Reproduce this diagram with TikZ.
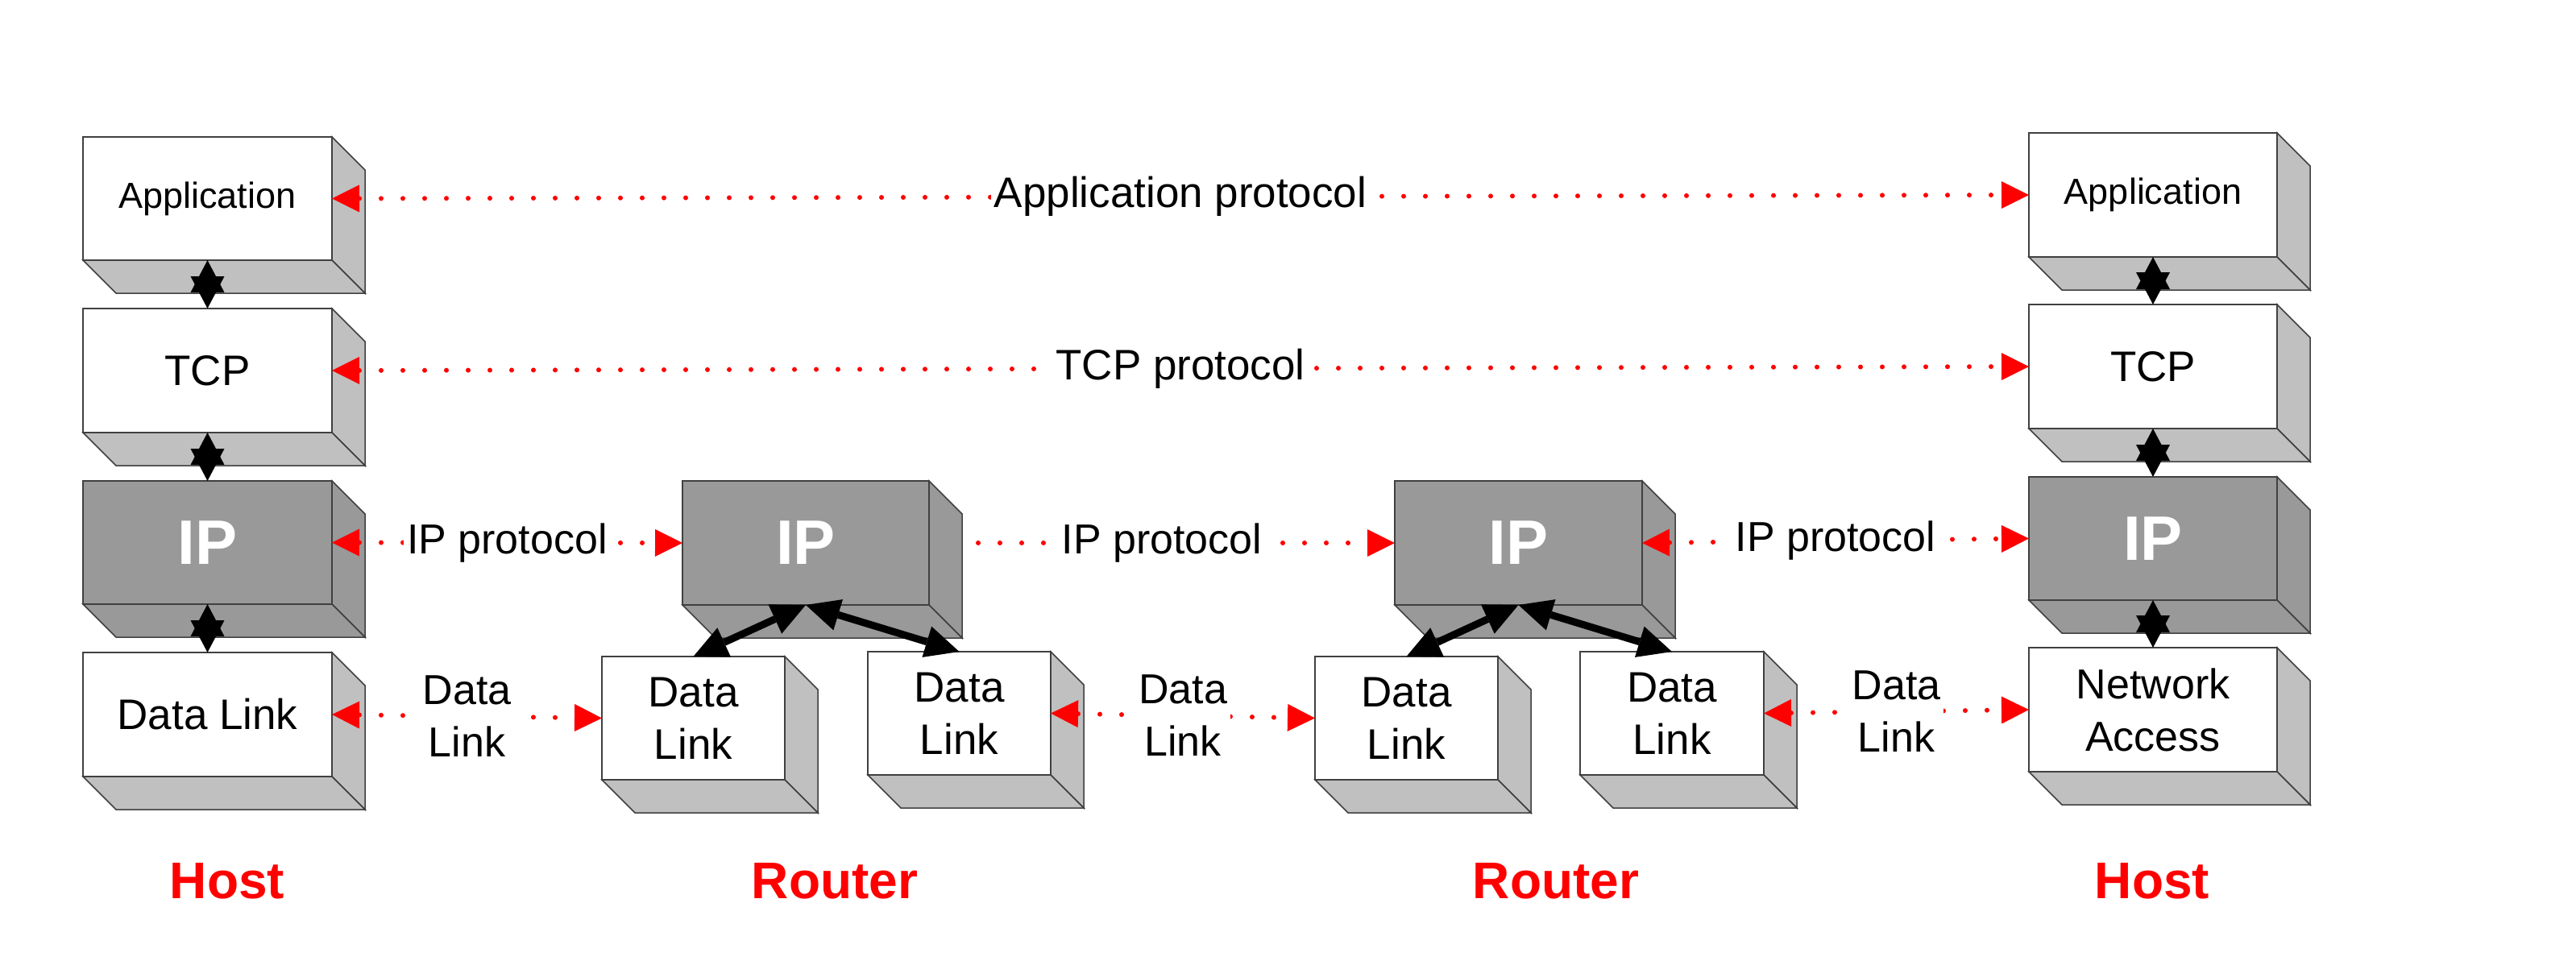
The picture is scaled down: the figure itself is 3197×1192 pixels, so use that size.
\documentclass[tikz,border=0pt]{standalone}
\usepackage{fontspec}
\setmainfont{Liberation Sans}
\usetikzlibrary{arrows.meta}
\definecolor{sidegray}{HTML}{C0C0C0}
\definecolor{ipgray}{HTML}{999999}
\definecolor{edgecol}{HTML}{404040}
\definecolor{pred}{HTML}{FF0000}
\pgfdeclarelayer{bg}
\pgfsetlayers{bg,main}
\tikzset{
  face/.style={draw=edgecol, line width=1.5pt, line join=miter},
  whitebox/.style={face, fill=white, rectangle, inner sep=0pt, outer sep=0pt, align=center, text=black},
  ipbox/.style={face, fill=ipgray, rectangle, inner sep=0pt, outer sep=0pt, align=center, text=white, font=\fontsize{78}{90}\selectfont\bfseries},
  proto/.style={draw=pred, line width=6pt, line cap=round, dash pattern=on 0pt off 27pt,
    {Triangle[length=34pt,width=34pt,line width=0pt]}-{Triangle[length=34pt,width=34pt,line width=0pt]}},
  plabel/.style={fill=white, inner sep=4pt, text=black, align=center, font=\fontsize{52}{65}\selectfont},
  dstar/.style={draw=black, line width=1pt,
    {Triangle[length=40pt,width=42pt,line width=0pt]}-{Triangle[length=40pt,width=42pt,line width=0pt]}},
  barrow/.style={draw=black, line width=9pt,
    {Triangle[length=42pt,width=40pt,line width=0pt]}-{Triangle[length=42pt,width=40pt,line width=0pt]}},
  devlabel/.style={anchor=base, text=pred, font=\fontsize{64}{72}\selectfont\bfseries}
}
\newcommand\sidefill{sidegray}
\newcommand\cubeat[7]{%
  \node[#6, minimum width=#4pt, minimum height=#5pt] (#1) at (#2,#3) {#7};
  \filldraw[face, fill=\sidefill] (#1.north east) -- ++(41,41) -- ++(0,#5) -- (#1.south east) -- cycle;
  \filldraw[face, fill=\sidefill] (#1.south west) -- ++(41,41) -- ++(#4,0) -- (#1.south east) -- cycle;
}
\begin{document}
\begin{tikzpicture}[x=1pt,y=-1pt]
\useasboundingbox (0,0) rectangle (3197,1192);
\begin{pgfonlayer}{bg}
\fill[white] (0,0) rectangle (3197,1192);
\end{pgfonlayer}

% left host
\renewcommand\sidefill{sidegray}
\cubeat{hApp}{257.5}{246.5}{309}{153}{whitebox, font=\fontsize{45}{54}\selectfont}{Application}
\cubeat{hTCP}{257.5}{460}{309}{154}{whitebox, font=\fontsize{53}{64}\selectfont}{TCP}
\cubeat{hDL}{257.5}{887}{309}{154}{whitebox, font=\fontsize{53}{65}\selectfont}{Data Link}
% right host
\cubeat{rApp}{2672}{242}{308}{154}{whitebox, font=\fontsize{45}{54}\selectfont}{Application}
\cubeat{rTCP}{2672}{455}{308}{154}{whitebox, font=\fontsize{53}{64}\selectfont}{TCP}
\cubeat{rNA}{2672}{881}{308}{154}{whitebox, font=\fontsize{52}{65}\selectfont}{Network\\Access}
% router data links
\cubeat{aDLl}{860.5}{891.5}{227}{153}{whitebox, font=\fontsize{53}{65}\selectfont}{Data\\Link}
\cubeat{aDLr}{1190.5}{885.5}{227}{153}{whitebox, font=\fontsize{53}{65}\selectfont}{Data\\Link}
\cubeat{bDLl}{1745.5}{891.5}{227}{153}{whitebox, font=\fontsize{53}{65}\selectfont}{Data\\Link}
\cubeat{bDLr}{2075}{885.5}{228}{153}{whitebox, font=\fontsize{53}{65}\selectfont}{Data\\Link}
% IP boxes
\renewcommand\sidefill{ipgray}
\cubeat{hIP}{257.5}{673.5}{309}{153}{ipbox}{IP}
\cubeat{rIP}{2672}{668.5}{308}{153}{ipbox}{IP}
\cubeat{aIP}{1000}{674}{306}{154}{ipbox}{IP}
\cubeat{bIP}{1884.5}{674}{307}{154}{ipbox}{IP}

% stack connectors
\draw[dstar] (hApp.south) -- (hTCP.north);
\draw[dstar] (hTCP.south) -- (hIP.north);
\draw[dstar] (hIP.south) -- (hDL.north);
\draw[dstar] (rApp.south) -- (rTCP.north);
\draw[dstar] (rTCP.south) -- (rIP.north);
\draw[dstar] (rIP.south) -- (rNA.north);

% router internal connectors
\draw[barrow] (aIP.south) -- (aDLl.north);
\draw[barrow] (aIP.south) -- (aDLr.north);
\draw[barrow] (bIP.south) -- (bDLl.north);
\draw[barrow] (bIP.south) -- (bDLr.north);

% peer protocols
\draw[proto] (hApp.east) -- (rApp.west) node[midway, plabel, font=\fontsize{53}{65}\selectfont] {Application protocol};
\draw[proto] (hTCP.east) -- (rTCP.west) node[midway, plabel, font=\fontsize{53}{65}\selectfont] {TCP protocol};
\draw[proto] (hIP.east) -- (aIP.west) node[midway, plabel] {IP protocol};
\begin{pgfonlayer}{bg}
\draw[proto] (aIP.east) -- (bIP.west) node[midway, plabel] {IP protocol};
\end{pgfonlayer}
\draw[proto] (bIP.east) -- (rIP.west) node[midway, plabel] {IP protocol};
\draw[proto] (hDL.east) -- (aDLl.west) node[midway, plabel] {Data\\Link};
\draw[proto] (aDLr.east) -- (bDLl.west) node[midway, plabel] {Data\\Link};
\draw[proto] (bDLr.east) -- (rNA.west) node[midway, plabel] {Data\\Link};

% device labels
\node[devlabel] (lh) at (282,1115) {Host};
\node[devlabel] (r1) at (1036,1115) {Router};
\node[devlabel] (r2) at (1931,1115) {Router};
\node[devlabel] (rh) at (2671,1115) {Host};
\end{tikzpicture}
\end{document}
